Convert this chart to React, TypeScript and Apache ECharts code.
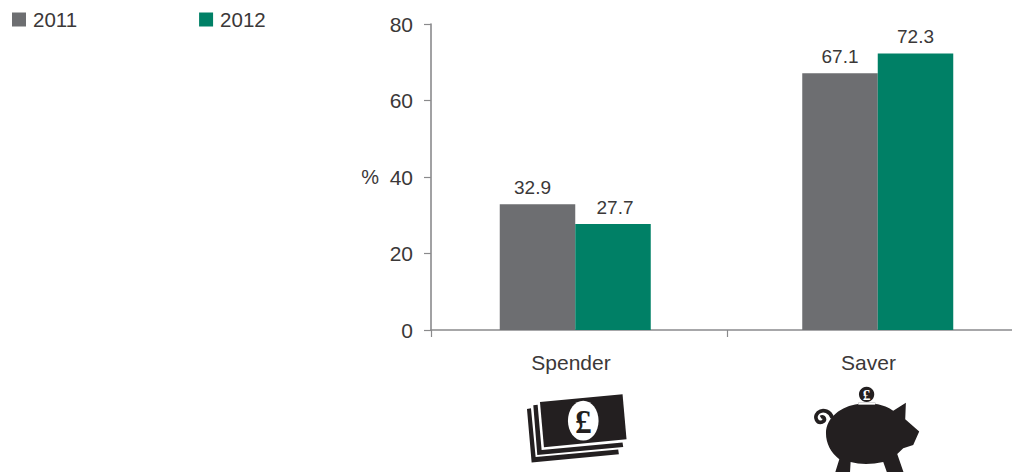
import React, { useEffect, useRef } from "react";
import * as echarts from "echarts";

const categories = ["Spender", "Saver"];
const years = ["2011", "2012"];
const values2011 = [32.9, 67.1];
const values2012 = [27.7, 72.3];
const yTicks = { min: 0, max: 80, interval: 20 };

const GREY = "#6d6e71";
const GREEN = "#008066";
const INK = "#231f20";
const TEXT = "#3b3838";
const AXIS = "#8a8a8c";
const FONT = "'Liberation Sans', Arial, sans-serif";

const PIG_BODY =
  "M78,160 C78,112 125,78 175,72 L175,68 L226,68 L226,72 C248,74 268,84 280,92 L318,68 L316,118 L358,155 L340,195 L310,205 L292,222 L312,280 L262,280 L250,246 C215,254 180,254 152,246 L150,280 L105,280 L118,238 C92,218 78,190 78,160 Z";
const PIG_TAIL =
  "M97,114 C92,96 70,84 54,98 C40,113 52,131 67,126 C79,120 72,106 62,112";

echarts.graphic.registerShape("pigBody", echarts.graphic.extendPath(PIG_BODY, {}));
echarts.graphic.registerShape("pigTail", echarts.graphic.extendPath(PIG_TAIL, {}));

const poundGlyph = (x: number, y: number, fontSize: number, fill: string) => ({
  type: "text",
  x,
  y,
  style: {
    text: "£",
    fill,
    font: `bold ${fontSize}px 'Liberation Serif', serif`,
    textAlign: "center",
    textVerticalAlign: "middle",
  },
});

// Banknote stack under the first category, drawn in a 3x local space.
const notesIcon = {
  type: "group",
  x: 500,
  y: 380,
  scaleX: 1 / 3,
  scaleY: 1 / 3,
  children: [
    { type: "polygon", shape: { points: [[81, 87], [93, 85], [107, 231], [355, 209], [357, 223], [95, 248]] }, style: { fill: INK } },
    { type: "polygon", shape: { points: [[100, 76], [113, 74], [125, 210], [368, 188], [370, 201], [112, 225]] }, style: { fill: INK } },
    { type: "polygon", shape: { points: [[120, 66], [368, 43], [380, 178], [132, 202]] }, style: { fill: INK } },
    { type: "ellipse", shape: { cx: 250, cy: 122, rx: 46, ry: 60 }, style: { fill: "#ffffff" } },
    poundGlyph(250, 124, 100, INK),
  ],
};

// Piggy bank under the second category, cut off by the bottom of the canvas.
const pigIcon = {
  type: "group",
  x: 800,
  y: 380,
  scaleX: 1 / 3,
  scaleY: 1 / 3,
  children: [
    { type: "pigBody", style: { fill: INK } },
    { type: "rect", shape: { x: 175, y: 68, width: 51, height: 6 }, style: { fill: "#ffffff" } },
    { type: "pigTail", style: { fill: "none", stroke: INK, lineWidth: 11 } },
    { type: "circle", shape: { cx: 200, cy: 43, r: 23 }, style: { fill: INK } },
    poundGlyph(200, 44, 46, "#ffffff"),
  ],
};

const barLabel = {
  show: true,
  position: "top" as const,
  distance: 7,
  color: TEXT,
  fontFamily: FONT,
  fontSize: 19,
  formatter: (p: { value: number }) => p.value.toFixed(1),
};

// The Spender value labels sit slightly off their bar centres.
const withLabelNudge = (values: number[], nudge: number) =>
  values.map((value, i) =>
    i === 0 ? { value, label: { offset: [nudge, 0] } } : { value }
  );

export default function App() {
  const ref = useRef<HTMLDivElement>(null);

  useEffect(() => {
    const chart = echarts.init(ref.current!, undefined, { renderer: "svg" });
    chart.setOption({
      animation: false,
      backgroundColor: "#ffffff",
      textStyle: { fontFamily: FONT },
      legend: {
        left: 12,
        top: 9,
        padding: 0,
        itemWidth: 14,
        itemHeight: 14,
        itemGap: 122,
        icon: "rect",
        data: years,
        textStyle: { color: TEXT, fontFamily: FONT, fontSize: 20.5, padding: [0, 0, 0, 2] },
      },
      // Grid 0 carries the visible axes, grid 1 positions the bars, grid 2 the category labels.
      grid: [
        { left: 431, top: 24, width: 592, height: 306, outerBoundsMode: "none" },
        { left: 424, top: 24, width: 605, height: 306, outerBoundsMode: "none" },
        { left: 422.25, top: 24, width: 595, height: 306, outerBoundsMode: "none" },
      ],
      xAxis: [
        {
          gridIndex: 0,
          type: "category",
          data: categories,
          axisLine: { lineStyle: { color: AXIS, width: 1.6 } },
          axisTick: { show: true, length: 7, lineStyle: { color: AXIS, width: 1.2 } },
          axisLabel: { show: false },
        },
        {
          gridIndex: 1,
          type: "category",
          data: categories,
          axisLine: { show: false },
          axisTick: { show: false },
          axisLabel: { show: false },
        },
        {
          gridIndex: 2,
          type: "category",
          data: categories,
          axisLine: { show: false },
          axisTick: { show: false },
          axisLabel: { color: TEXT, fontFamily: FONT, fontSize: 21, margin: 22 },
        },
      ],
      yAxis: [
        {
          gridIndex: 0,
          type: "value",
          ...yTicks,
          name: "%",
          nameLocation: "middle",
          nameRotate: 0,
          nameGap: 52,
          nameTextStyle: { color: TEXT, fontFamily: FONT, fontSize: 20, padding: [8, 0, 0, 0] },
          axisLine: { show: true, lineStyle: { color: AXIS, width: 1.6 } },
          axisTick: { show: true, length: 7, lineStyle: { color: AXIS, width: 1.2 } },
          axisLabel: { color: TEXT, fontFamily: FONT, fontSize: 21, margin: 18 },
          splitLine: { show: false },
        },
        {
          gridIndex: 1,
          type: "value",
          ...yTicks,
          axisLine: { show: false },
          axisTick: { show: false },
          axisLabel: { show: false },
          splitLine: { show: false },
        },
        {
          gridIndex: 2,
          type: "value",
          ...yTicks,
          axisLine: { show: false },
          axisTick: { show: false },
          axisLabel: { show: false },
          splitLine: { show: false },
        },
      ],
      series: [
        {
          name: years[0],
          type: "bar",
          xAxisIndex: 1,
          yAxisIndex: 1,
          data: withLabelNudge(values2011, -5),
          barWidth: 75.5,
          barGap: 0,
          itemStyle: { color: GREY },
          label: barLabel,
        },
        {
          name: years[1],
          type: "bar",
          xAxisIndex: 1,
          yAxisIndex: 1,
          data: withLabelNudge(values2012, 2),
          barWidth: 75.5,
          barGap: 0,
          itemStyle: { color: GREEN },
          label: barLabel,
        },
      ],
      graphic: [notesIcon, pigIcon],
    });
    return () => chart.dispose();
  }, []);

  return (
    <div
      ref={ref}
      style={{ position: "absolute", left: 0, top: 0, width: 1012, height: 472 }}
    />
  );
}
